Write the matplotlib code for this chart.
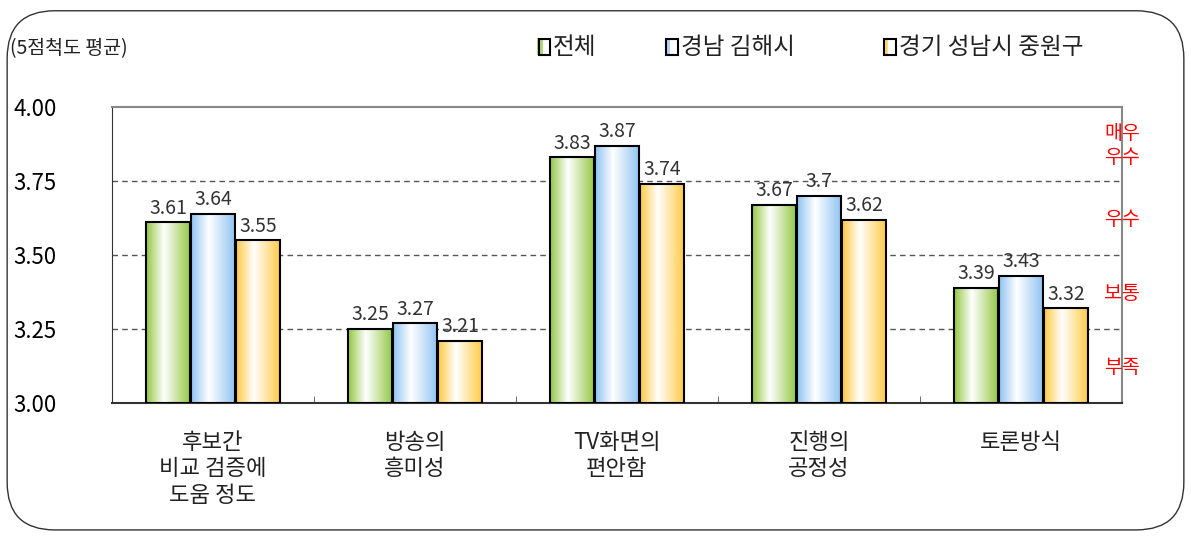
import numpy as np
import matplotlib.pyplot as plt
from matplotlib.colors import LinearSegmentedColormap
from matplotlib.patches import FancyBboxPatch, Rectangle

plt.rcParams['font.family'] = ['Noto Sans CJK KR', 'DejaVu Sans']

categories = ['후보간\n비교 검증에\n도움 정도', '방송의\n흥미성', 'TV화면의\n편안함', '진행의\n공정성', '토론방식']
series_names = ['전체', '경남 김해시', '경기 성남시 중원구']
total = [3.61, 3.25, 3.83, 3.67, 3.39]
gimhae = [3.64, 3.27, 3.87, 3.70, 3.43]
jungwon = [3.55, 3.21, 3.74, 3.62, 3.32]
value_labels = [['3.61', '3.25', '3.83', '3.67', '3.39'],
                ['3.64', '3.27', '3.87', '3.7', '3.43'],
                ['3.55', '3.21', '3.74', '3.62', '3.32']]
yticks = [3.00, 3.25, 3.50, 3.75, 4.00]
grade_labels = ['매우\n우수', '우수', '보통', '부족']
grade_pos = [3.87, 3.62, 3.37, 3.12]

colors = ['#92c641', '#8ec2f2', '#ffc840']

fig = plt.figure(figsize=(11.91, 5.38), dpi=100)
fig.patches.append(FancyBboxPatch((0.006, 0.015), 0.988, 0.965, boxstyle='round,pad=0,rounding_size=0.04',
                                  transform=fig.transFigure, fill=False, edgecolor='#333333', lw=1.0,
                                  mutation_aspect=1191 / 538))
ax = fig.add_axes([0.094, 0.251, 0.848, 0.550])

x = np.arange(len(categories))
width = 0.22
offsets = [-0.223, 0, 0.223]
grad = np.linspace(0, 1, 256).reshape(1, -1)

for vals, labs, off, col in zip([total, gimhae, jungwon], value_labels, offsets, colors):
    cmap = LinearSegmentedColormap.from_list('g', [(0, col), (0.4, 'white'), (1, col)])
    bars = ax.bar(x + off, np.array(vals) - 3.0, width, bottom=3.0, facecolor='none',
                  edgecolor='black', lw=1.5, zorder=4)
    for b, lab in zip(bars, labs):
        bx, by, bw, bh = b.get_x(), b.get_y(), b.get_width(), b.get_height()
        im = ax.imshow(grad, cmap=cmap, aspect='auto', extent=[bx, bx + bw, by, by + bh], zorder=3)
        im.set_clip_path(b)
        ax.text(bx + bw / 2, by + bh + 0.012, lab, ha='center', va='bottom', fontsize=14,
                color='#333333', zorder=5)

ax.set_xlim(-0.5, len(categories) - 0.5)
ax.set_ylim(3.0, 4.0)
ax.set_yticks(yticks)
ax.set_yticklabels([f'{v:.2f}' for v in yticks], fontsize=16)
ax.tick_params(axis='y', length=0, pad=40)
ax.set_xticks(x)
ax.set_xticklabels(categories, fontsize=16, linespacing=1.2, color='#222222')
ax.tick_params(axis='x', length=0, pad=20)
ax.set_xticks(np.arange(0.5, len(categories) - 0.5), minor=True)
ax.tick_params(axis='x', which='minor', direction='in', length=5, color='#555555')
for v in yticks[1:-1]:
    ax.axhline(v, color='#555555', ls=(0, (4, 3)), lw=1.0, zorder=1)
ax.spines['left'].set_color('#333333')
ax.spines['bottom'].set_color('#333333')
ax.spines['bottom'].set_linewidth(1.5)
ax.spines['top'].set_color('#888888')
ax.spines['right'].set_color('#888888')
ax.spines['right'].set_linewidth(1.5)
ax.spines['top'].set_linewidth(1.5)

for lab, pos in zip(grade_labels, grade_pos):
    ax.text(1.0, pos, lab, transform=ax.get_yaxis_transform(), ha='center', va='center',
            color='red', fontsize=14, linespacing=1.15)

fig.text(0.008, 0.91, '(5점척도 평균)', fontsize=14, va='center', ha='left', color='#222222')

leg_x = [0.451, 0.558, 0.741]
for lx, name, col in zip(leg_x, series_names, colors):
    fig.patches.append(Rectangle((lx, 0.898), 0.0045, 0.032, transform=fig.transFigure,
                                 facecolor=col, edgecolor='none', alpha=0.7))
    fig.patches.append(Rectangle((lx + 0.0015, 0.898), 0.0095, 0.030, transform=fig.transFigure,
                                 facecolor='none', edgecolor='black', lw=1.5))
    fig.text(lx + 0.0135, 0.912, name, fontsize=17, va='center', ha='left', color='#222222')

fig.savefig('out.png', dpi=100)
